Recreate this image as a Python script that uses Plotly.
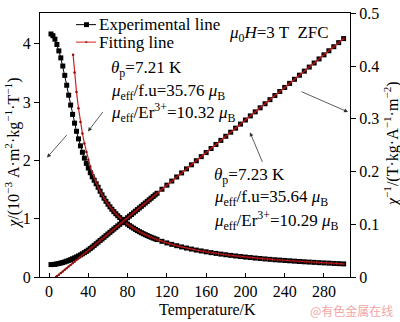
import plotly.graph_objects as go

# ---------------- data ----------------
T_exp = [2, 4, 6, 8, 10, 12, 14, 16, 18, 20, 22, 24, 26, 28, 30, 32, 34, 36, 38, 40,
         42, 44, 46, 48, 50, 52, 54, 56, 58, 60, 62, 64, 66, 68, 70, 72, 74, 76, 78, 80,
         82, 84, 86, 88, 90, 92, 94, 96, 98, 100, 102, 104, 106, 108, 110,
         115, 120, 125, 130, 135, 140, 145, 150, 155, 160, 165, 170, 175, 180, 185,
         190, 195, 200, 205, 210, 215, 220, 225, 230, 235, 240, 245, 250, 255, 260,
         265, 270, 275, 280, 285, 290, 295, 300]

chi_exp = [4.17, 4.14, 4.08, 3.99, 3.88, 3.76, 3.62, 3.46, 3.29, 3.12, 2.95, 2.79, 2.64, 2.50,
           2.37, 2.25, 2.14, 2.04, 1.95, 1.87, 1.79, 1.72, 1.66, 1.60, 1.54,
           1.473, 1.410, 1.352, 1.299, 1.250, 1.204, 1.162, 1.122, 1.086, 1.051, 1.019, 0.988,
           0.959, 0.932, 0.907, 0.882, 0.859, 0.838, 0.817, 0.797, 0.778, 0.760, 0.743, 0.727,
           0.711, 0.696, 0.682, 0.668, 0.655, 0.642,
           0.612, 0.585, 0.560, 0.537, 0.516, 0.497, 0.479, 0.462, 0.447, 0.432, 0.418, 0.405,
           0.393, 0.382, 0.371, 0.361, 0.351, 0.342, 0.334, 0.325, 0.318, 0.310, 0.303, 0.296,
           0.290, 0.284, 0.278, 0.272, 0.266, 0.261, 0.256, 0.251, 0.246, 0.242, 0.238, 0.233,
           0.229, 0.225]

inv_exp = [0.0235, 0.0237, 0.0241, 0.0248, 0.0256, 0.0265, 0.0275, 0.0287, 0.0300, 0.0314,
           0.0329, 0.0345, 0.0362, 0.0380, 0.0399, 0.0419, 0.0440, 0.0462, 0.0486, 0.0511,
           0.0539, 0.0568, 0.0599, 0.0630, 0.0661,
           0.0692, 0.0722, 0.0753, 0.0784, 0.0815, 0.0846, 0.0877, 0.0908, 0.0939, 0.0969,
           0.1000, 0.1031, 0.1062, 0.1093, 0.1124, 0.1155, 0.1185, 0.1216, 0.1247, 0.1278,
           0.1309, 0.1340, 0.1371, 0.1402, 0.1433, 0.1464, 0.1494, 0.1525, 0.1556, 0.1587,
           0.1664, 0.1741, 0.1819, 0.1896, 0.1973, 0.2050, 0.2127, 0.2204, 0.2282, 0.2359,
           0.2436, 0.2513, 0.2590, 0.2668, 0.2745, 0.2822, 0.2899, 0.2976, 0.3054, 0.3131,
           0.3208, 0.3285, 0.3362, 0.3440, 0.3517, 0.3594, 0.3671, 0.3748, 0.3826, 0.3903,
           0.3980, 0.4057, 0.4134, 0.4212, 0.4289, 0.4366, 0.4443, 0.4520]

T_fit_chi = [24.5, 26, 28, 30, 32, 34, 36, 38, 40, 42, 44, 46, 48, 50,
             52, 54, 56, 58, 60, 62, 64, 66, 68, 70, 72, 74, 76, 78, 80,
             82, 84, 86, 88, 90, 92, 94, 96, 98, 100, 102, 104, 106, 108, 110,
             115, 120, 125, 130, 135, 140, 145, 150, 155, 160, 165, 170, 175, 180, 185,
             190, 195, 200, 205, 210, 215, 220, 225, 230, 235, 240, 245, 250, 255, 260,
             265, 270, 275, 280, 285, 290, 295, 300]
chi_fit = [3.815, 3.511, 3.173, 2.895, 2.661, 2.463, 2.292, 2.143, 2.012, 1.897, 1.793, 1.701,
           1.618, 1.542,
           1.473, 1.410, 1.352, 1.299, 1.250, 1.204, 1.162, 1.122, 1.086, 1.051, 1.019, 0.988,
           0.959, 0.932, 0.907, 0.882, 0.859, 0.838, 0.817, 0.797, 0.778, 0.760, 0.743, 0.727,
           0.711, 0.696, 0.682, 0.668, 0.655, 0.642,
           0.612, 0.585, 0.560, 0.537, 0.516, 0.497, 0.479, 0.462, 0.447, 0.432, 0.418, 0.405,
           0.393, 0.382, 0.371, 0.361, 0.351, 0.342, 0.334, 0.325, 0.318, 0.310, 0.303, 0.296,
           0.290, 0.284, 0.278, 0.272, 0.266, 0.261, 0.256, 0.251, 0.246, 0.242, 0.238, 0.233,
           0.229, 0.225]

T_fit_inv = [7.21, 8, 10, 12, 14, 16, 18, 20, 22, 24, 26, 28, 30, 32, 34, 36, 38, 40,
             42, 44, 46, 48, 50, 52, 54, 56, 58, 60, 62, 64, 66, 68, 70, 72, 74, 76, 78, 80,
             82, 84, 86, 88, 90, 92, 94, 96, 98, 100, 102, 104, 106, 108, 110,
             115, 120, 125, 130, 135, 140, 145, 150, 155, 160, 165, 170, 175, 180, 185,
             190, 195, 200, 205, 210, 215, 220, 225, 230, 235, 240, 245, 250, 255, 260,
             265, 270, 275, 280, 285, 290, 295, 300]
inv_fit = [0.0, 0.0012, 0.0043, 0.0074, 0.0105, 0.0136, 0.0167, 0.0197, 0.0228, 0.0259,
           0.0290, 0.0321, 0.0352, 0.0383, 0.0414, 0.0445, 0.0475, 0.0506, 0.0537, 0.0568,
           0.0599, 0.0630, 0.0661,
           0.0692, 0.0722, 0.0753, 0.0784, 0.0815, 0.0846, 0.0877, 0.0908, 0.0939, 0.0969,
           0.1000, 0.1031, 0.1062, 0.1093, 0.1124, 0.1155, 0.1185, 0.1216, 0.1247, 0.1278,
           0.1309, 0.1340, 0.1371, 0.1402, 0.1433, 0.1464, 0.1494, 0.1525, 0.1556, 0.1587,
           0.1664, 0.1741, 0.1819, 0.1896, 0.1973, 0.2050, 0.2127, 0.2204, 0.2282, 0.2359,
           0.2436, 0.2513, 0.2590, 0.2668, 0.2745, 0.2822, 0.2899, 0.2976, 0.3054, 0.3131,
           0.3208, 0.3285, 0.3362, 0.3440, 0.3517, 0.3594, 0.3671, 0.3748, 0.3826, 0.3903,
           0.3980, 0.4057, 0.4134, 0.4212, 0.4289, 0.4366, 0.4443, 0.4520]

x_ticks = [0, 40, 80, 120, 160, 200, 240, 280]
y_left_ticks = [0, 1, 2, 3, 4]
y_right_ticks = [0, 0.1, 0.2, 0.3, 0.4, 0.5]
y_right_labels = ["0", "0.1", "0.2", "0.3", "0.4", "0.5"]

# ---------------- layout helpers (pixel -> paper) ----------------
W, H = 400, 322
L, R, TOP, BOT = 40, 50, 5, 45
PW, PH = W - L - R, H - TOP - BOT


def px(x):
    return (x - L) / PW


def py(y):
    return (H - BOT - y) / PH


SERIF = "Liberation Serif, Times New Roman, serif"
BLACK = "#000000"
RED = "#d42020"

fig = go.Figure()

# experimental curves
fig.add_trace(go.Scatter(x=T_exp, y=chi_exp, mode="lines+markers",
                         line=dict(color=BLACK, width=1),
                         marker=dict(symbol="square", size=5, color=BLACK),
                         showlegend=False))
fig.add_trace(go.Scatter(x=T_exp, y=inv_exp, mode="lines+markers", yaxis="y2",
                         line=dict(color=BLACK, width=1),
                         marker=dict(symbol="square", size=5, color=BLACK),
                         showlegend=False))
# fitting curves
fig.add_trace(go.Scatter(x=T_fit_chi, y=chi_fit, mode="lines+markers",
                         line=dict(color=RED, width=1.2),
                         marker=dict(symbol="circle", size=2.5, color="#8a1010"),
                         showlegend=False))
fig.add_trace(go.Scatter(x=T_fit_inv, y=inv_fit, mode="lines+markers", yaxis="y2",
                         line=dict(color=RED, width=1.2),
                         marker=dict(symbol="circle", size=2.5, color="#8a1010"),
                         showlegend=False))

axis_font = dict(family=SERIF, size=16, color=BLACK)

fig.update_layout(
    width=W, height=H,
    margin=dict(l=L, r=R, t=TOP, b=BOT),
    paper_bgcolor="white", plot_bgcolor="white",
    font=dict(family=SERIF, size=16, color=BLACK),
    xaxis=dict(range=[-9.2, 306.5], tickvals=x_ticks, showline=True, linecolor=BLACK,
               linewidth=1, mirror=True, ticks="inside", ticklen=4, tickcolor=BLACK,
               showgrid=False, zeroline=False, tickfont=axis_font),
    yaxis=dict(range=[0, 4.53], tickvals=y_left_ticks, showline=True, linecolor=BLACK,
               linewidth=1, ticks="outside", ticklen=5, tickcolor=BLACK,
               showgrid=False, zeroline=False, tickfont=axis_font,
               ticklabeloverflow="allow"),
    yaxis2=dict(range=[0, 0.5005], tickvals=y_right_ticks, ticktext=y_right_labels,
                overlaying="y", side="right", showline=True, linecolor=BLACK,
                linewidth=1, ticks="outside", ticklen=5, tickcolor=BLACK,
                showgrid=False, zeroline=False, tickfont=axis_font,
                ticklabeloverflow="allow"),
)

anns = []


def text(x, y, s, size=17, anchor="left", color=BLACK, family=SERIF, angle=0):
    anns.append(dict(x=px(x), y=py(y), xref="paper", yref="paper", text=s,
                     showarrow=False, xanchor=anchor, yanchor="middle",
                     textangle=angle, font=dict(family=family, size=size, color=color)))


def arrow(tx, ty, hx, hy):
    anns.append(dict(x=px(hx), y=py(hy), xref="paper", yref="paper", text="",
                     showarrow=True, ax=tx - hx, ay=ty - hy, axref="pixel", ayref="pixel",
                     arrowhead=2, arrowsize=1, arrowwidth=0.8, arrowcolor="#333333",
                     standoff=0, startstandoff=0))


# legend (manual)
text(97, 17, "Experimental line")
text(97, 35, "Fitting line")

# field label
text(227, 27, "<i>μ</i><sub>0</sub><i>H</i>=3 T  ZFC")

# left parameter block
text(109, 63, "<i>θ</i><sub>p</sub>=7.21 K")
text(109, 86, "<i>μ</i><sub>eff</sub>/f.u=35.76 <i>μ</i><sub>B</sub>")
text(109, 108, "<i>μ</i><sub>eff</sub>/Er<sup>3+</sup>=10.32 <i>μ</i><sub>B</sub>")

# right parameter block
text(212, 173, "<i>θ</i><sub>p</sub>=7.23 K")
text(212, 196, "<i>μ</i><sub>eff</sub>/f.u=35.64 <i>μ</i><sub>B</sub>")
text(212, 219, "<i>μ</i><sub>eff</sub>/Er<sup>3+</sup>=10.29 <i>μ</i><sub>B</sub>")

# axis titles
text(207, 311, "Temperature/K", size=16, anchor="center")
text(13, 150, "<i>χ</i>/(10<sup>−3</sup> A·m<sup>2</sup>·kg<sup>−1</sup>·T<sup>−1</sup>)",
     size=16, anchor="center", angle=-90)
text(391, 140, "<i>χ</i><sup>−1</sup>/(T·kg·A<sup>−1</sup>·m<sup>−2</sup>)",
     size=16, anchor="center", angle=-90)

# watermark
text(351, 311, "@有色金属在线", size=12, anchor="center", color="#f2a6a6",
     family="Noto Sans CJK SC")

# arrows
arrow(68, 130, 47, 154)
arrow(104, 106, 88, 127)
arrow(300, 86, 348, 107)
arrow(263, 159, 250, 128)

fig.update_layout(annotations=anns)

# manual legend symbols
shapes = [
    dict(type="line", xref="paper", yref="paper", x0=px(76), x1=px(96), y0=py(17), y1=py(17),
         line=dict(color=BLACK, width=1)),
    dict(type="rect", xref="paper", yref="paper", x0=px(84), x1=px(89), y0=py(14.5), y1=py(19.5),
         fillcolor=BLACK, line=dict(width=0)),
    dict(type="line", xref="paper", yref="paper", x0=px(76), x1=px(96), y0=py(35), y1=py(35),
         line=dict(color=RED, width=1)),
    dict(type="circle", xref="paper", yref="paper", x0=px(85.3), x1=px(87.3), y0=py(34), y1=py(36),
         fillcolor="#8a1010", line=dict(width=0)),
]
fig.update_layout(shapes=shapes)

fig.write_html("out.html")
